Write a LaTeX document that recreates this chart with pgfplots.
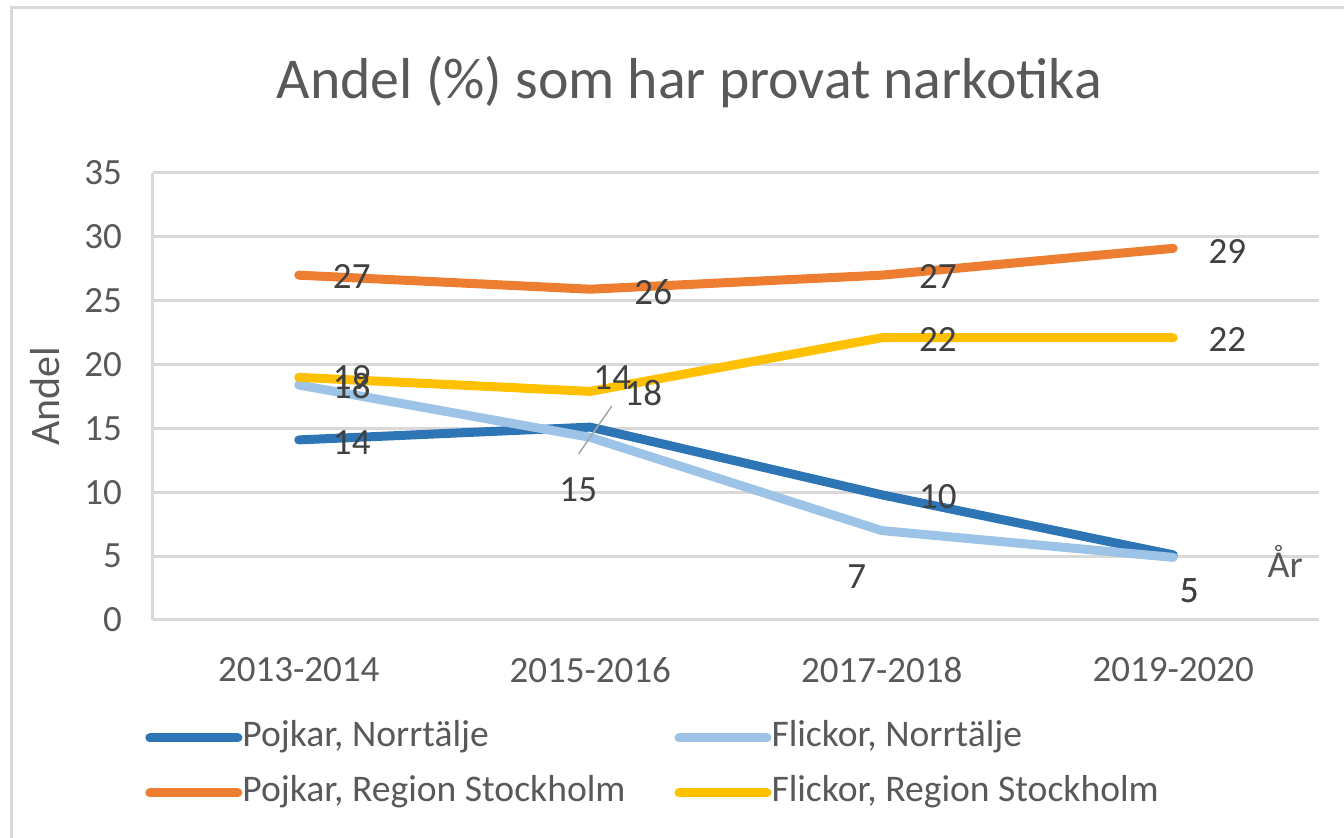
\documentclass[border=0pt]{standalone}
\usepackage{fontspec}
\setmainfont{Carlito}
\usepackage{pgfplots}
\usepackage{pgfplotstable}
\pgfplotsset{compat=1.18}
\definecolor{cDB}{HTML}{2E75B6}
\definecolor{cLB}{HTML}{9DC3E6}
\definecolor{cOR}{HTML}{ED7D31}
\definecolor{cYE}{HTML}{FFC000}
\definecolor{gridgray}{HTML}{D9D9D9}
\definecolor{txtgray}{HTML}{595959}
\definecolor{lblgray}{HTML}{404040}

\pgfplotstableread{
x y l dx dy
0 14.1 14 26.5 -1.5
1 15.1 15 -6 -31.5
2 9.8 10 28 -1
3 5.1 5 8 -17.78
}\pojkN
\pgfplotstableread{
x y l dx dy
0 18.4 18 26.5 -0.5
1 14.3 14 11 30
2 7.0 7 -12.5 -23
3 4.9 5 8 -16.5
}\flickN
\pgfplotstableread{
x y l dx dy
0 27.0 27 26.5 -0.5
1 25.9 26 31.5 -1.5
2 27.0 27 28 -0.5
3 29.1 29 27 -1.5
}\pojkS
\pgfplotstableread{
x y l dx dy
0 19.0 19 26.5 0
1 17.9 18 26.5 -1
2 22.1 22 28 -1
3 22.1 22 27 -1
}\flickS

\pgfplotsset{
  lbls/.style={
    nodes near coords,
    point meta=explicit symbolic,
    visualization depends on={\thisrow{dx}\as\dx},
    visualization depends on={\thisrow{dy}\as\dy},
    every node near coord/.append style={anchor=center, xshift=\dx, yshift=\dy,
      font=\fontsize{18.5}{22}\selectfont, text=lblgray},
  }
}

\begin{document}
\begin{tikzpicture}
\useasboundingbox (0,0) rectangle (672pt,419pt);
\draw[gridgray, line width=1.5pt] (5.5pt,0pt) -- (5.5pt,415pt) -- (672pt,415pt);
\begin{axis}[
  at={(76.5pt,109pt)}, anchor=south west,
  scale only axis, width=583pt, height=223.5pt,
  xmin=-0.5, xmax=3.5, ymin=0, ymax=35,
  xtick={0,1,2,3},
  xticklabels={2013-2014,2015-2016,2017-2018,2019-2020},
  ytick={0,5,...,35},
  axis x line=bottom, axis y line=left,
  axis line style={-, draw=gridgray, line width=1.5pt},
  major tick length=0pt,
  ymajorgrids, grid style={gridgray, line width=1.5pt},
  /pgf/number format/assume math mode=true,
  ticklabel style={font=\fontsize{18.5}{22}\selectfont, text=txtgray},
  yticklabel style={xshift=-12pt},
  xticklabel style={yshift=-15pt},
  title={Andel (\%) som har provat narkotika},
  title style={at={(axis description cs:0.46,1.1768)}, anchor=center,
    font=\fontsize{28.9}{34}\selectfont, text=txtgray},
  ylabel={Andel},
  every axis y label/.style={at={(axis description cs:-0.0926,0.5)}, rotate=90,
    anchor=center, font=\fontsize{21}{25}\selectfont, text=txtgray},
  xlabel={År},
  every axis x label/.style={at={(axis description cs:0.971,0.13)},
    anchor=center, font=\fontsize{19}{23}\selectfont, text=txtgray},
  legend columns=2,
  legend cell align=left,
  legend style={at={(axis description cs:-0.0069,-0.3255)}, anchor=west,
    draw=none, fill=none, inner sep=0pt,
    font=\fontsize{18.8}{22}\selectfont, text=txtgray,
    nodes={inner sep=0pt, text height=12.5pt, text depth=4pt},
    row sep=11pt,
    /tikz/every even column/.append style={column sep=24.5pt}},
  legend image code/.code={
    \draw[#1, line cap=round] (2.25pt,0pt) -- (42.25pt,0pt);
    \path (0pt,0pt) -- (44pt,0pt);},
  every axis plot/.append style={line width=4.5pt, line cap=round, line join=round},
]
\addplot[cDB, lbls] table[x=x,y=y,meta=l] {\pojkN};
\addlegendentry{Pojkar, Norrtälje}
\addplot[cLB, lbls] table[x=x,y=y,meta=l] {\flickN};
\addlegendentry{Flickor, Norrtälje}
\addplot[cOR, lbls] table[x=x,y=y,meta=l] {\pojkS};
\addlegendentry{Pojkar, Region Stockholm}
\addplot[cYE, lbls] table[x=x,y=y,meta=l] {\flickS};
\addlegendentry{Flickor, Region Stockholm}
\addplot[forget plot, color=black!35, line width=0.75pt, line cap=butt] coordinates {(0.96,13.0) (1.074,16.76)};
\end{axis}
\end{tikzpicture}
\end{document}
